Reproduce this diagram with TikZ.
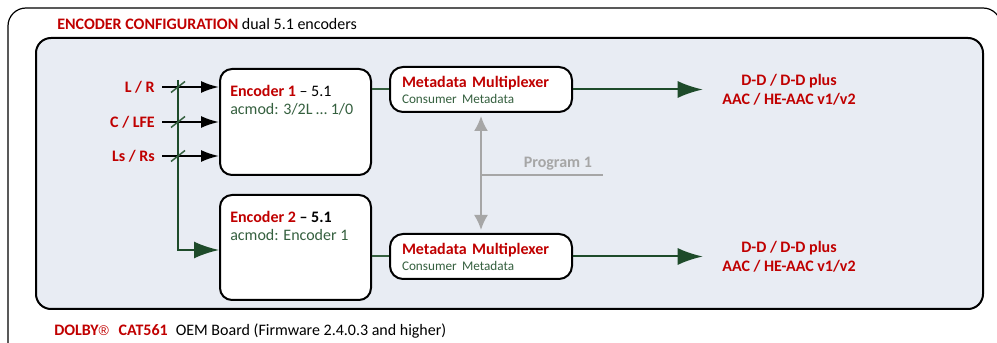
\documentclass[tikz,border=0pt]{standalone}
\usepackage{fontspec}
\setmainfont{Carlito}
\newfontfamily\regfont{Liberation Sans}
\usetikzlibrary{arrows.meta}
\definecolor{dred}{HTML}{C00000}
\definecolor{dgreen}{HTML}{35603F}
\definecolor{agreen}{HTML}{1E4B2A}
\definecolor{pgrey}{HTML}{A6A6A6}
\definecolor{bgblue}{HTML}{E8ECF3}

\begin{document}
\begin{tikzpicture}[x = 1pt, y = 1pt,
                > = {Latex[length=18pt,width=12pt]}, % arrow head style
                node distance = 125pt, % distance between nodes
                semithick % line style
            ]

            \tikzstyle{every node}=[font=\fontsize{16}{18}\selectfont]
            \tikzstyle{enc}=[draw = black, line width = 2pt, rounded corners = 12pt,
            fill = white, minimum width = 151pt, minimum height = 106pt]
            \tikzstyle{mux}=[draw = black, line width = 2pt, rounded corners = 13pt,
            fill = white, minimum width = 182pt, minimum height = 45pt,
            text width = 158pt, align = left, inner sep = 0pt]
            \tikzstyle{chan}=[text = dred, font=\fontsize{16}{18}\selectfont\bfseries,
            anchor = east, inner sep = 0pt]
            \tikzstyle{fmt}=[text = dred, font=\fontsize{16}{19}\selectfont\bfseries,
            align = center]
            \tikzstyle{gline}=[draw = dgreen, line width = 1.5pt]
            \tikzstyle{garrow}=[draw = agreen, line width = 2pt,
            -{Latex[length=25pt,width=17pt]}]
            \tikzstyle{prog}=[draw = pgrey, line width = 2pt]

            \useasboundingbox (0,0) rectangle (997,343);
            % board and encoder frame
            \draw[line width = 1.2pt, rounded corners = 18pt] (8,-20) rectangle (1001,335);
            \draw[line width = 2pt, rounded corners = 15pt, fill = bgblue] (36,34) rectangle (983,305);

            \node[anchor = west, inner sep = 0pt] (title) at (57,319)
            {\textbf{\color{dred}ENCODER CONFIGURATION} dual 5.1 encoders};
            \node[anchor = west, inner sep = 0pt] (foot) at (54,12)
            {\textbf{\color{dred}DOLBY{\regfont\mdseries\fontsize{14}{18}\selectfont ®}\hspace{0.6em}CAT561}\hspace{0.5em}OEM Board (Firmware 2.4.0.3 and higher)};

            \node[enc] (e1) at (295.5,221) {}; \node[enc, minimum height = 105pt] (e2)
            [below of=e1, node distance = 125.5pt] {};
            \node[anchor = north west, align = left, inner sep = 0pt] (e1t) at
            ([shift={(11,-17)}]e1.north west) {\textbf{\color{dred}Encoder 1} -- 5.1\\\color{dgreen}acmod: 3/2L … 1/0};
            \node[anchor = north west, align = left, inner sep = 0pt] (e2t) at
            ([shift={(11,-17)}]e2.north west) {\textbf{\color{dred}Encoder 2} \textbf{-- 5.1}\\\color{dgreen}acmod: Encoder 1};

            \node[mux] (m1) at (481,253.5) {\textbf{\color{dred}Metadata Multiplexer}\\[-2pt]{\fontsize{13.2}{15}\selectfont\color{dgreen}Consumer Metadata}};
            \node[mux] (m2) [below of=m1, node distance = 167pt] {\textbf{\color{dred}Metadata Multiplexer}\\[-2pt]{\fontsize{13.2}{15}\selectfont\color{dgreen}Consumer Metadata}};

            \node[fmt] (o1) [right of=m1, node distance = 308pt] {D-D / D-D plus\\AAC / HE-AAC v1/v2};
            \node[fmt] (o2) [right of=m2, node distance = 308pt] {D-D / D-D plus\\AAC / HE-AAC v1/v2};

            \node[chan] (lr) at (155,256) {L / R}; \node[chan] (clfe) at (155,221)
            {C / LFE}; \node[chan] (lsrs) at (155,187) {Ls / Rs};

            % channel bus
            \coordinate (bus) at (178,263);
            \draw[garrow] (bus) |- ([yshift=-2.5pt]e2.west);
            \foreach \c in {lr,clfe,lsrs} {
                \draw[->, line width = 2pt, shorten <=7pt] (\c.east) -- (\c.east -| e1.west);
                \draw[gline] (\c.east -| bus) +(-7,-5.5) -- +(7,5.5);
            }

            \draw[gline, line width = 2pt] (e1.east |- m1.west) -- (m1.west); \draw[gline,
            line width = 2pt] (e2.east |- m2.west) -- (m2.west);
            \draw[garrow, shorten >=16pt] (m1.east) -- (m1.east -| o1.west);
            \draw[garrow, shorten >=16pt] (m2.east) -- (m2.east -| o2.west);

            % program link
            \draw[prog, {Latex[length=15pt,width=14pt]}-{Latex[length=15pt,width=14pt]},
            shorten <=3pt, shorten >=3pt] (m1.south) -- (m2.north);
            \coordinate (p1) at (603,168);
            \draw[prog] (m1.south |- p1) -- (p1) node[pos = 0.63, above, text = pgrey,
            font=\fontsize{16}{18}\selectfont\bfseries] {Program 1};
\end{tikzpicture}
\end{document}
